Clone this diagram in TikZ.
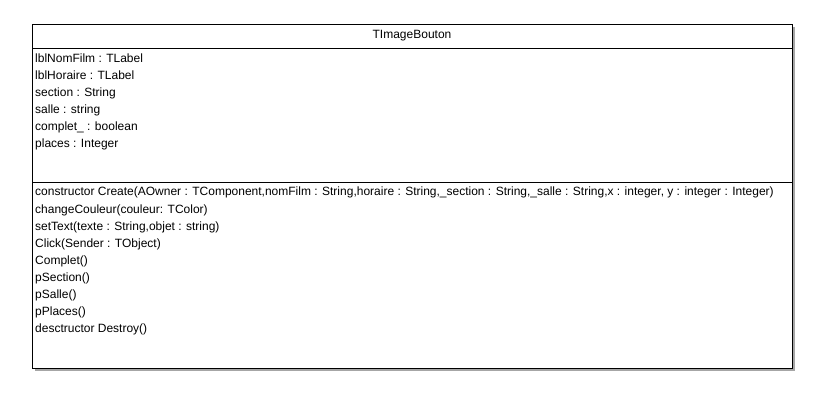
\documentclass[tikz,border=0pt]{standalone}
\usepackage{fontspec}
\setmainfont{Liberation Sans}
\begin{document}
\begin{tikzpicture}[x=1pt,y=-1pt,
  txt/.style={anchor=base west,inner sep=0pt,font=\fontsize{12}{14}\selectfont},
  ttl/.style={anchor=base,inner sep=0pt,font=\fontsize{12}{14}\selectfont},
  box/.style={draw=black,line width=1pt,fill=white},
  shadowbox/.style={fill=black!35,draw=none}]
\useasboundingbox (0,0) rectangle (824,408);
\fill[white] (0,0) rectangle (824,408);
\fill[shadowbox] (35,27) rectangle (795,371);
\draw[box] (32,24) rectangle (792,368);
\draw[line width=1pt] (32,48) -- (792,48);
\draw[line width=1pt] (32,182) -- (792,182);
\node[ttl] (title) at (412,38.5) {TImageBouton};
\node[txt] (a1) at (35,62.5) {lblNomFilm : TLabel};
\node[txt] (a2) at (35,79.5) {lblHoraire : TLabel};
\node[txt] (a3) at (35,96.5) {section : String};
\node[txt] (a4) at (35,113.5) {salle : string};
\node[txt] (a5) at (35,130.5) {complet\_ : boolean};
\node[txt] (a6) at (35,147.5) {places : Integer};
\node[txt] (m1) at (35,195.5) {constructor Create(AOwner : TComponent,nomFilm : String,horaire : String,\_section : String,\_salle : String,x : integer, y : integer : Integer)};
\node[txt] (m2) at (35,213.5) {changeCouleur(couleur: TColor)};
\node[txt] (m3) at (35,230.5) {setText(texte : String,objet : string)};
\node[txt] (m4) at (35,247) {Click(Sender : TObject)};
\node[txt] (m5) at (35,264) {Complet()};
\node[txt] (m6) at (35,281) {pSection()};
\node[txt] (m7) at (35,298) {pSalle()};
\node[txt] (m8) at (35,315) {pPlaces()};
\node[txt] (m9) at (35,332) {desctructor Destroy()};
\end{tikzpicture}
\end{document}
